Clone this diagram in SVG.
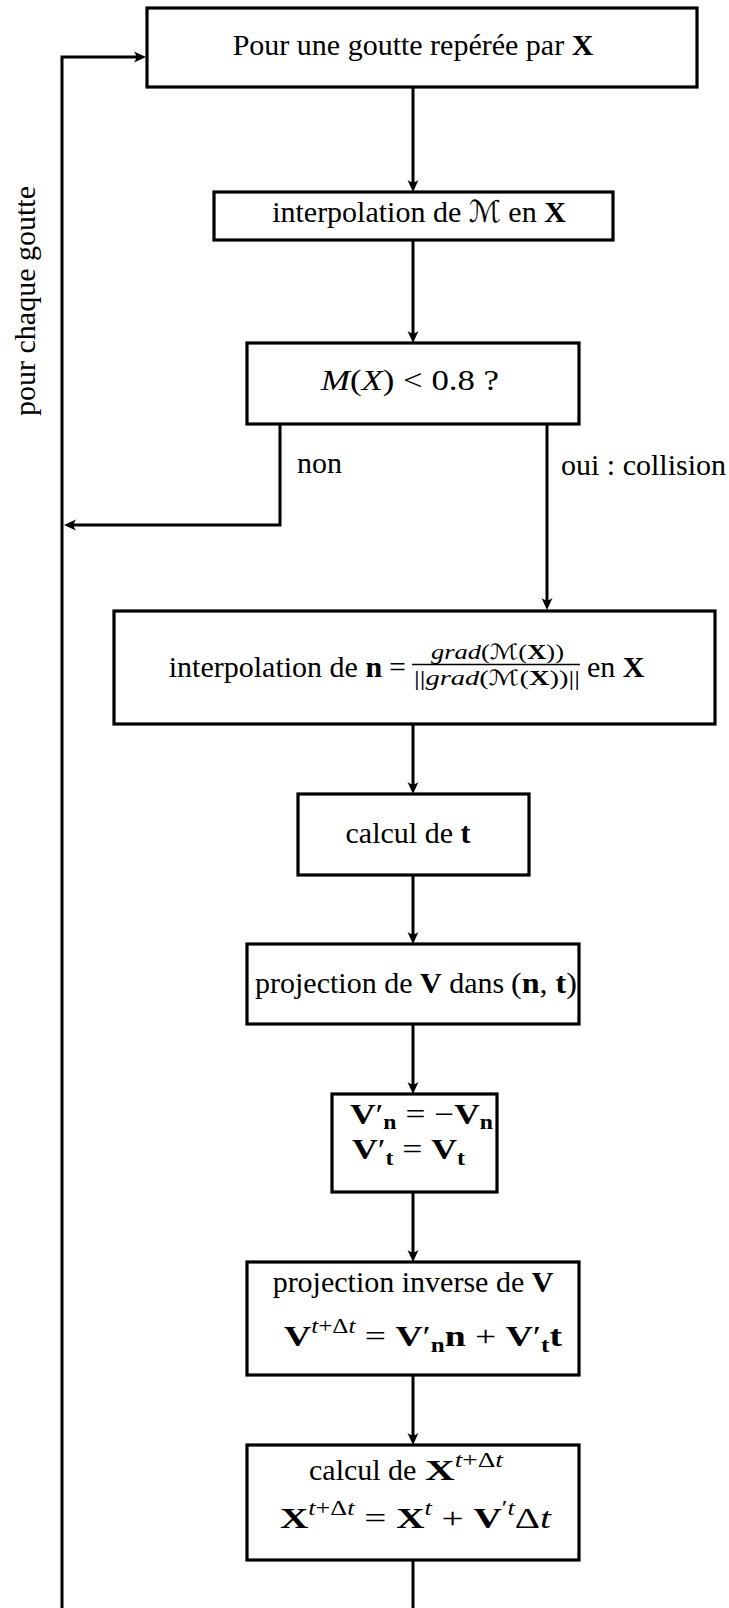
<svg xmlns="http://www.w3.org/2000/svg" width="729" height="1608" viewBox="0 0 729 1608">
<style>
.box{fill:#fff;stroke:#000;stroke-width:3.2}
.ln{fill:none;stroke:#000;stroke-width:3}
text{font-family:"Liberation Serif","Times New Roman",serif;font-size:30px;fill:#000}
.b{font-weight:bold}
.i{font-style:italic}
.s{font-size:20px}
.f{font-size:21px}
.cal{font-family:"DejaVu Sans","DejaVu Serif",sans-serif;font-style:italic}
</style>
<defs>
<marker id="ah" markerUnits="userSpaceOnUse" markerWidth="20" markerHeight="16" viewBox="-12 -8 20 16" refX="0" refY="0" orient="auto">
<path d="M4,0 L-8,-5.5 Q-3.5,0 -8,5.5 Z" fill="#000"/>
</marker>
</defs>
<rect width="729" height="1608" fill="#fff"/>
<g id="connectors">
<path class="ln" d="M413,87 V188" marker-end="url(#ah)"/>
<path class="ln" d="M413,240 V339" marker-end="url(#ah)"/>
<path class="ln" d="M280,424 V525 H68" marker-end="url(#ah)"/>
<path class="ln" d="M547,424 V606" marker-end="url(#ah)"/>
<path class="ln" d="M413,724 V790" marker-end="url(#ah)"/>
<path class="ln" d="M413,875 V940" marker-end="url(#ah)"/>
<path class="ln" d="M413,1024 V1090" marker-end="url(#ah)"/>
<path class="ln" d="M413,1192 V1258" marker-end="url(#ah)"/>
<path class="ln" d="M413,1375 V1441" marker-end="url(#ah)"/>
<path class="ln" d="M413,1560 V1608"/>
<path class="ln" d="M62,1608 V57 H142" marker-end="url(#ah)"/>
<text x="297" y="473">non</text>
<text x="561" y="475">oui : collision</text>
<text transform="translate(35,301) rotate(-90)" text-anchor="middle">pour chaque goutte</text>
</g>
<g id="n1">
<rect class="box" x="147" y="8" width="550" height="79"/>
<text x="413" y="55" text-anchor="middle">Pour une goutte repérée par <tspan class="b">X</tspan></text>
</g>
<g id="n2">
<rect class="box" x="214" y="192" width="399" height="48"/>
<text x="419" y="222" text-anchor="middle">interpolation de <tspan class="cal">ℳ</tspan> en <tspan class="b">X</tspan></text>
</g>
<g id="n3">
<rect class="box" x="247" y="343" width="332" height="81"/>
<text x="321" y="390" textLength="178" lengthAdjust="spacingAndGlyphs"><tspan class="i">M</tspan>(<tspan class="i">X</tspan>) &lt; 0.8 ?</text>
</g>
<g id="n4">
<rect class="box" x="114" y="611" width="601" height="113"/>
<text x="406" y="677" text-anchor="end">interpolation de <tspan class="b">n</tspan><tspan dx="7">=</tspan></text>
<text class="f" x="431" y="659" textLength="133" lengthAdjust="spacingAndGlyphs"><tspan class="i">grad</tspan>(<tspan class="cal">ℳ</tspan>(<tspan class="b">X</tspan>))</text>
<line x1="412" y1="664.5" x2="580" y2="664.5" stroke="#000" stroke-width="1.6"/>
<text class="f" x="414" y="685" textLength="166" lengthAdjust="spacingAndGlyphs">||<tspan class="i">grad</tspan>(<tspan class="cal">ℳ</tspan>(<tspan class="b">X</tspan>))||</text>
<text x="587" y="677">en <tspan class="b">X</tspan></text>
</g>
<g id="n5">
<rect class="box" x="298" y="794" width="231" height="81"/>
<text x="408" y="843" text-anchor="middle">calcul de <tspan class="b">t</tspan></text>
</g>
<g id="n6">
<rect class="box" x="247" y="944" width="332" height="80"/>
<text x="255" y="993">projection de <tspan class="b">V</tspan> dans</text>
<text x="511" y="993" textLength="66" lengthAdjust="spacingAndGlyphs">(<tspan class="b">n</tspan>, <tspan class="b">t</tspan>)</text>
</g>
<g id="n7">
<rect class="box" x="332" y="1094" width="165" height="98"/>
<text x="350" y="1124" textLength="143" lengthAdjust="spacingAndGlyphs"><tspan class="b">V</tspan><tspan>′</tspan><tspan class="b s" y="1129">n</tspan><tspan y="1124"> = −</tspan><tspan class="b">V</tspan><tspan class="b s" y="1129">n</tspan></text>
<text x="352" y="1159" textLength="113" lengthAdjust="spacingAndGlyphs"><tspan class="b">V</tspan><tspan>′</tspan><tspan class="b s" y="1165">t</tspan><tspan y="1159"> = </tspan><tspan class="b">V</tspan><tspan class="b s" y="1165">t</tspan></text>
</g>
<g id="n8">
<rect class="box" x="247" y="1262" width="332" height="113"/>
<text x="413" y="1292" text-anchor="middle">projection inverse de <tspan class="b">V</tspan></text>
<text x="284" y="1346" textLength="278" lengthAdjust="spacingAndGlyphs"><tspan class="b">V</tspan><tspan class="s i" y="1333">t</tspan><tspan class="s">+Δ</tspan><tspan class="s i">t</tspan><tspan y="1346"> = </tspan><tspan class="b">V</tspan><tspan>′</tspan><tspan class="b s" y="1352">n</tspan><tspan class="b" y="1346">n</tspan><tspan> + </tspan><tspan class="b">V</tspan><tspan>′</tspan><tspan class="b s" y="1352">t</tspan><tspan class="b" y="1346">t</tspan></text>
</g>
<g id="n9">
<rect class="box" x="247" y="1445" width="332" height="115"/>
<text x="309" y="1480">calcul de</text>
<text x="425" y="1480" textLength="78" lengthAdjust="spacingAndGlyphs"><tspan class="b">X</tspan><tspan class="s i" y="1467">t</tspan><tspan class="s">+Δ</tspan><tspan class="s i">t</tspan></text>
<text x="280" y="1528" textLength="271" lengthAdjust="spacingAndGlyphs"><tspan class="b">X</tspan><tspan class="s i" y="1515">t</tspan><tspan class="s">+Δ</tspan><tspan class="s i">t</tspan><tspan y="1528"> = </tspan><tspan class="b">X</tspan><tspan class="s i" y="1515">t</tspan><tspan y="1528"> + </tspan><tspan class="b">V</tspan><tspan class="s" y="1515">′</tspan><tspan class="s i">t</tspan><tspan y="1528">Δ</tspan><tspan class="i">t</tspan></text>
</g>
</svg>
